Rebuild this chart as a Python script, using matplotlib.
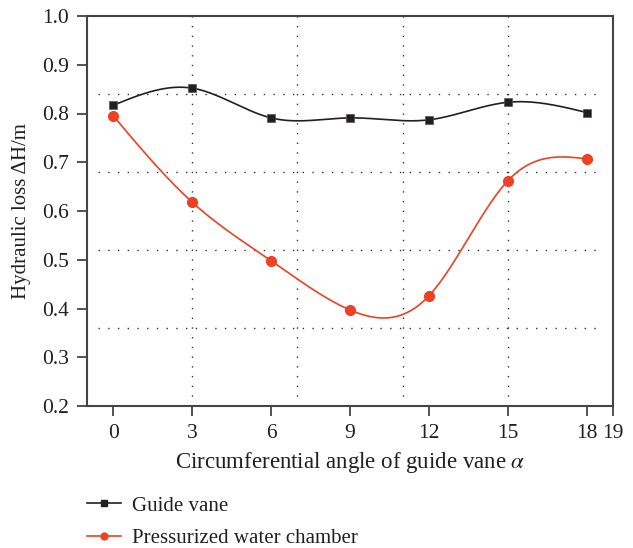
import numpy as np
import matplotlib
matplotlib.use("Agg")
import matplotlib.pyplot as plt
from matplotlib.lines import Line2D

plt.rcParams['font.family'] = ['Liberation Serif', 'DejaVu Serif']
plt.rcParams['mathtext.fontset'] = 'stix'

angles = [0, 3, 6, 9, 12, 15, 18]
guide_vane = [0.817, 0.852, 0.791, 0.791, 0.787, 0.823, 0.802]
water_chamber = [0.795, 0.618, 0.498, 0.397, 0.426, 0.662, 0.707]
x_ticks = [0, 3, 6, 9, 12, 15, 18, 19]
y_ticks = [0.2, 0.3, 0.4, 0.5, 0.6, 0.7, 0.8, 0.9, 1.0]
grid_x = [3, 7, 11, 15]
grid_y = [0.36, 0.52, 0.68, 0.84]


def cubic_spline(x, y, n=300):
    """Natural cubic spline through the given points."""
    x = np.asarray(x, float)
    y = np.asarray(y, float)
    k = len(x)
    h = np.diff(x)
    A = np.zeros((k, k))
    b = np.zeros(k)
    A[0, 0] = A[-1, -1] = 1.0
    for i in range(1, k - 1):
        A[i, i - 1] = h[i - 1]
        A[i, i] = 2 * (h[i - 1] + h[i])
        A[i, i + 1] = h[i]
        b[i] = 6 * ((y[i + 1] - y[i]) / h[i] - (y[i] - y[i - 1]) / h[i - 1])
    M = np.linalg.solve(A, b)
    xs = np.linspace(x[0], x[-1], n)
    idx = np.clip(np.searchsorted(x, xs) - 1, 0, k - 2)
    x0, x1 = x[idx], x[idx + 1]
    hh = x1 - x0
    t0 = x1 - xs
    t1 = xs - x0
    ys = (M[idx] * t0 ** 3 + M[idx + 1] * t1 ** 3) / (6 * hh) \
        + (y[idx] / hh - M[idx] * hh / 6) * t0 \
        + (y[idx + 1] / hh - M[idx + 1] * hh / 6) * t1
    return xs, ys


black = '#231f20'
red = '#ee4023'
text_col = '#231f20'

fig = plt.figure(figsize=(6.33, 5.48), dpi=100)
ax = fig.add_axes([87 / 633, 1 - 406 / 548, (613 - 87) / 633, (406 - 16) / 548])

for gx in grid_x:
    ax.axvline(gx, color='#333333', lw=1.0, ls=(0, (1, 6)), zorder=1)
for gy in grid_y:
    ax.plot([-0.6, 18.6], [gy, gy], color='#333333', lw=1.0,
            ls=(0, (1, 6)), zorder=1)

xs, ys = cubic_spline(angles, guide_vane)
ax.plot(xs, ys, color=black, lw=1.2, zorder=3)
ax.plot(angles, guide_vane, ls='none', marker='s', ms=6.2, color=black,
        mec='#555555', mew=0.5, zorder=4)

xs, ys = cubic_spline(angles, water_chamber)
ax.plot(xs, ys, color=red, lw=1.2, zorder=3)
ax.plot(angles, water_chamber, ls='none', marker='o', ms=7, color=red,
        mec=red, zorder=4)

ax.set_xlim(-1, 19)
ax.set_ylim(0.2, 1.0)
ax.set_xticks(x_ticks)
ax.set_xticklabels([str(v) for v in x_ticks])
ax.set_yticks(y_ticks)
ax.set_yticklabels([f'{v:.1f}' for v in y_ticks])
ax.tick_params(direction='out', length=7, width=1.3, color='#444444',
               labelsize=15.5, labelcolor=text_col, pad=6)
for s in ax.spines.values():
    s.set_linewidth(1.5)
    s.set_color('#444444')

ax.set_xlabel(r'Circumferential angle of guide vane $\alpha$', fontsize=16.5,
              color=text_col, labelpad=5)
ax.set_ylabel('Hydraulic loss ΔH/m', fontsize=15, color=text_col, labelpad=8)

handles = [
    Line2D([], [], color=black, marker='s', ms=4.2, lw=1.2, mec=black),
    Line2D([], [], color=red, marker='o', ms=5, lw=1.2),
]
fig.legend(handles, ['Guide vane', 'Pressurized water chamber'],
           loc='upper left', bbox_to_anchor=(87 / 633, 1 - 496 / 548),
           frameon=False, fontsize=15, handlelength=1.65, labelspacing=0.62,
           handletextpad=0.5, borderpad=0, borderaxespad=0,
           labelcolor=text_col)

fig.savefig('out.png', dpi=100)
